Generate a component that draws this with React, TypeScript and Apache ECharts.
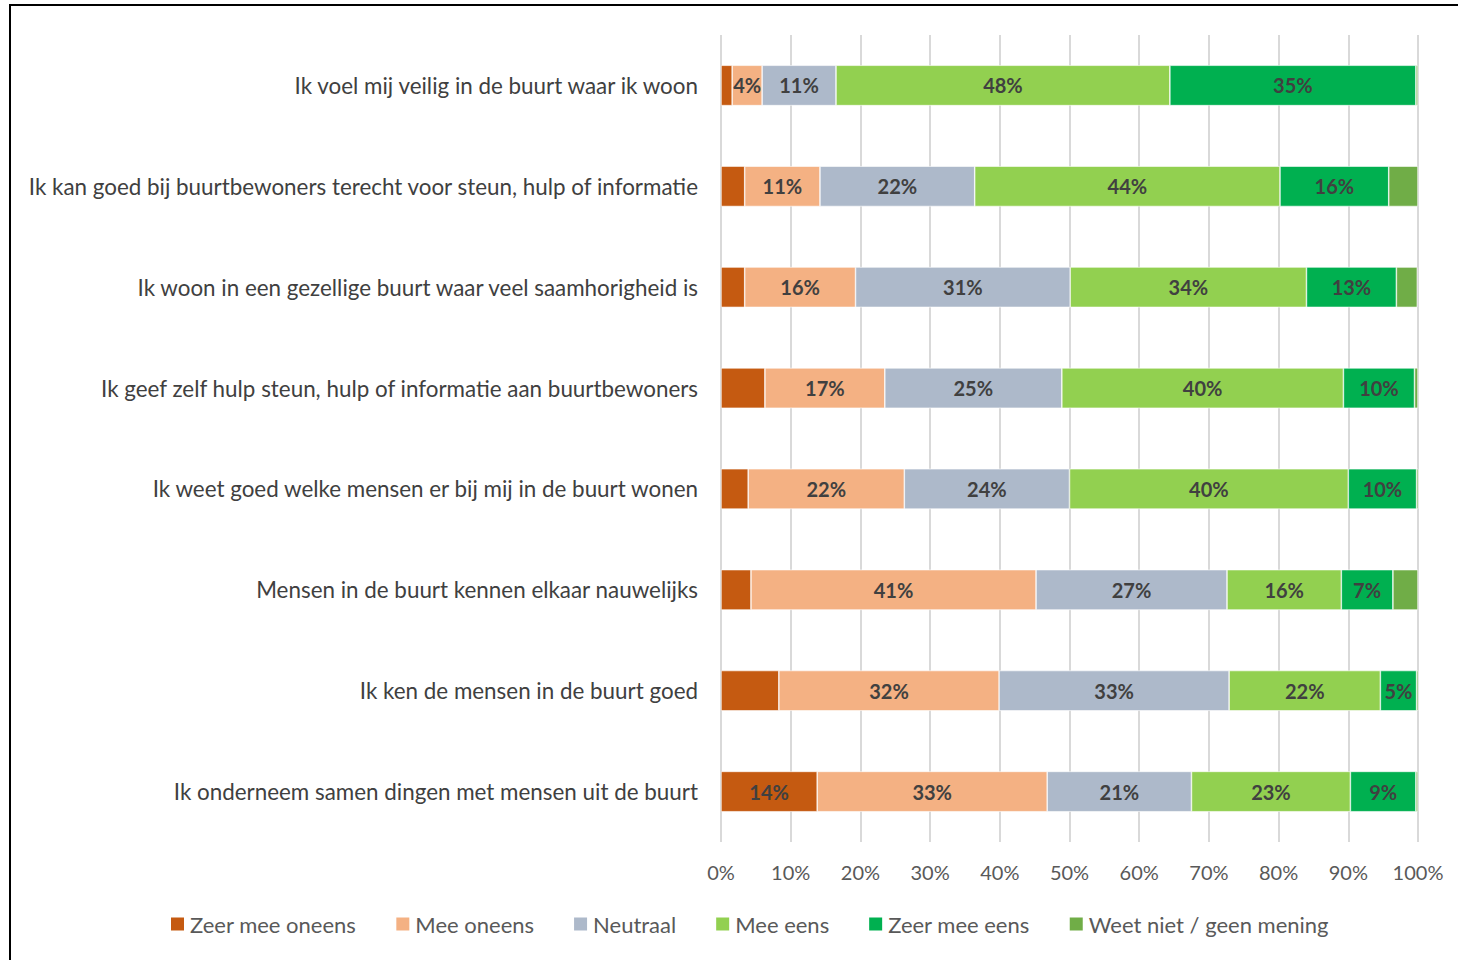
import React, { useEffect, useRef } from "react";
import * as echarts from "echarts";

const categories = [
  "Ik voel mij veilig in de buurt waar ik woon",
  "Ik kan goed bij buurtbewoners terecht voor steun, hulp of informatie",
  "Ik woon in een gezellige buurt waar veel saamhorigheid is",
  "Ik geef zelf hulp steun, hulp of informatie aan buurtbewoners",
  "Ik weet goed welke mensen er bij mij in de buurt wonen",
  "Mensen in de buurt kennen elkaar nauwelijks",
  "Ik ken de mensen in de buurt goed",
  "Ik onderneem samen dingen met mensen uit de buurt",
];

const seriesNames = [
  "Zeer mee oneens",
  "Mee oneens",
  "Neutraal",
  "Mee eens",
  "Zeer mee eens",
  "Weet niet / geen mening",
];

const zeerMeeOneens = [1.6, 3.4, 3.4, 6.3, 3.9, 4.3, 8.3, 13.8];
const meeOneens = [4.3, 10.8, 15.9, 17.2, 22.4, 40.9, 31.6, 33.0];
const neutraal = [10.6, 22.2, 30.8, 25.4, 23.7, 27.4, 33.0, 20.7];
const meeEens = [47.9, 43.8, 33.9, 40.4, 40.0, 16.4, 21.7, 22.8];
const zeerMeeEens = [35.3, 15.6, 12.9, 10.2, 9.8, 7.4, 5.2, 9.4];
const weetNiet = [0.3, 4.2, 3.0, 0.5, 0.3, 3.6, 0.3, 0.3];

const xTicks = [0, 10, 20, 30, 40, 50, 60, 70, 80, 90, 100];

const colors = ["#C55A11", "#F4B183", "#ADB9CA", "#92D050", "#00B050", "#70AD47"];

const FONT = "Lato, 'Open Sans', sans-serif";

export default function App() {
  const ref = useRef<HTMLDivElement>(null);
  useEffect(() => {
    if (!ref.current) return;
    const chart = echarts.init(ref.current, undefined, { renderer: "svg" });
    const allData = [zeerMeeOneens, meeOneens, neutraal, meeEens, zeerMeeEens, weetNiet];
    const series = allData.map((d, si) => ({
      name: seriesNames[si],
      type: "bar",
      stack: "total",
      barCategoryGap: "60%",
      data: d,
      itemStyle: { color: colors[si], borderColor: "#ffffff", borderWidth: 0.6 },
      label: {
        show: true,
        position: "inside",
        color: "#404040",
        fontFamily: FONT,
        fontWeight: "bold",
        fontSize: 20,
        formatter: (p: any) => {
          const v = p.value as number;
          if (si === 5) return "";
          if (si === 0 && v < 10) return "";
          return Math.round(v) + "%";
        },
      },
    }));
    chart.setOption({
      animation: false,
      textStyle: { fontFamily: FONT },
      graphic: [
        {
          type: "rect",
          shape: { x: 10, y: 5, width: 1470, height: 980 },
          style: { fill: "none", stroke: "#000", lineWidth: 2 },
          silent: true,
        },
      ],
      grid: { left: 721, right: 40, top: 35, bottom: 118, containLabel: false },
      xAxis: {
        type: "value",
        min: 0,
        max: 100,
        interval: 10,
        axisLine: { show: false },
        axisTick: { show: false },
        splitLine: { show: true, lineStyle: { color: "#D9D9D9", width: 2 } },
        axisLabel: {
          color: "#595959",
          fontSize: 20,
          fontFamily: FONT,
          margin: 20,
          formatter: (v: number) => (xTicks.includes(v) ? v + "%" : ""),
        },
      },
      yAxis: {
        type: "category",
        data: categories,
        inverse: true,
        axisLine: { show: false },
        axisTick: { show: false },
        axisLabel: { color: "#404040", fontSize: 22.4, fontFamily: FONT, margin: 23 },
      },
      legend: {
        bottom: 20,
        left: 164,
        itemWidth: 15,
        itemHeight: 15,
        itemGap: 38,
        icon: "rect",
        textStyle: { color: "#595959", fontSize: 22, fontFamily: FONT },
        data: seriesNames,
      },
      series,
    });
    return () => chart.dispose();
  }, []);
  return (
    <div
      ref={ref}
      style={{ position: "fixed", left: 0, top: 0, width: 1458, height: 960, background: "#fff" }}
    />
  );
}
